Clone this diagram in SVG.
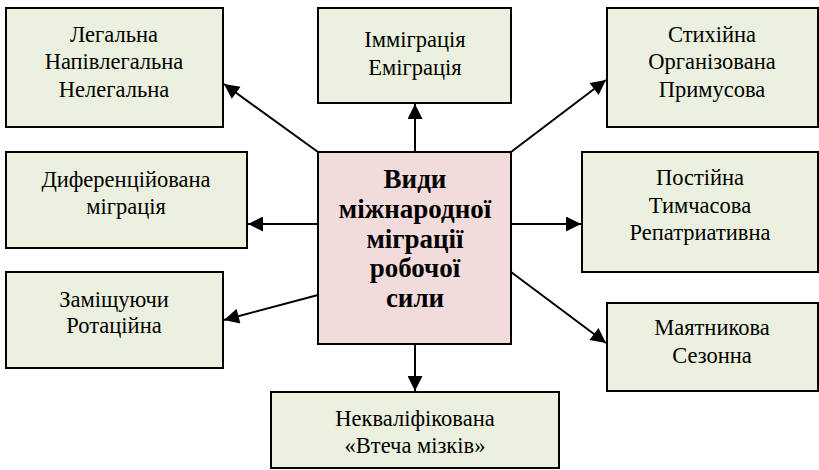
<svg xmlns="http://www.w3.org/2000/svg" width="819" height="470" viewBox="0 0 819 470">
  <style>
    .box { fill: #EBF1DE; stroke: #000; stroke-width: 2; }
    .hub { fill: #F2DCDB; stroke: #000; stroke-width: 2; }
    text { font-family: 'Liberation Serif', Tinos, 'Times New Roman', 'DejaVu Serif', serif; fill: #000; text-anchor: middle; }
    .t { font-size: 22.5px; }
    .tb { font-size: 27px; font-weight: bold; }
    .c { stroke: #000; stroke-width: 2; fill: none; marker-end: url(#ah); }
  </style>
  <defs>
    <marker id="ah" viewBox="0 0 10 10" refX="10" refY="5" markerWidth="8" markerHeight="7.5" markerUnits="strokeWidth" orient="auto">
      <path d="M0,0 L10,5 L0,10 Z" fill="#000"/>
    </marker>
  </defs>

  <g id="connectors">
    <line class="c" x1="415" y1="152" x2="415" y2="104"/>
    <line class="c" x1="415" y1="344" x2="415" y2="391"/>
    <line class="c" x1="318" y1="224" x2="248" y2="224"/>
    <line class="c" x1="511" y1="224" x2="581" y2="224"/>
    <line class="c" x1="318" y1="152" x2="224" y2="84"/>
    <line class="c" x1="511" y1="152" x2="606" y2="80"/>
    <line class="c" x1="318" y1="295" x2="224" y2="320"/>
    <line class="c" x1="511" y1="272" x2="606" y2="343"/>
  </g>

  <g id="hub">
    <rect class="hub" x="318" y="152" width="193" height="192"/>
    <text class="tb" x="415" y="188">Види</text>
    <text class="tb" x="415" y="218">міжнародної</text>
    <text class="tb" x="415" y="248">міграції</text>
    <text class="tb" x="415" y="277">робочої</text>
    <text class="tb" x="415" y="307">сили</text>
  </g>

  <g id="legal">
    <rect class="box" x="6" y="8" width="217" height="119"/>
    <text class="t" x="114" y="42">Легальна</text>
    <text class="t" x="114" y="69">Напівлегальна</text>
    <text class="t" x="114" y="97">Нелегальна</text>
  </g>

  <g id="direction">
    <rect class="box" x="318" y="8" width="193" height="95"/>
    <text class="t" x="415" y="47">Імміграція</text>
    <text class="t" x="415" y="75">Еміграція</text>
  </g>

  <g id="organisation">
    <rect class="box" x="607" y="8" width="211" height="119"/>
    <text class="t" x="712" y="42">Стихійна</text>
    <text class="t" x="712" y="69">Організована</text>
    <text class="t" x="712" y="97">Примусова</text>
  </g>

  <g id="differentiated">
    <rect class="box" x="6" y="152" width="241" height="96"/>
    <text class="t" x="126" y="187">Диференційована</text>
    <text class="t" x="126" y="214">міграція</text>
  </g>

  <g id="duration">
    <rect class="box" x="582" y="152" width="236" height="120"/>
    <text class="t" x="700" y="185">Постійна</text>
    <text class="t" x="700" y="213">Тимчасова</text>
    <text class="t" x="700" y="240">Репатриативна</text>
  </g>

  <g id="replacement">
    <rect class="box" x="6" y="272" width="217" height="96"/>
    <text class="t" x="114" y="307">Заміщуючи</text>
    <text class="t" x="114" y="333">Ротаційна</text>
  </g>

  <g id="periodic">
    <rect class="box" x="607" y="303" width="211" height="88"/>
    <text class="t" x="712" y="335">Маятникова</text>
    <text class="t" x="712" y="363">Сезонна</text>
  </g>

  <g id="qualification">
    <rect class="box" x="271" y="392" width="288" height="76"/>
    <text class="t" x="415" y="426">Некваліфікована</text>
    <text class="t" x="415" y="453">«Втеча мізків»</text>
  </g>
</svg>
